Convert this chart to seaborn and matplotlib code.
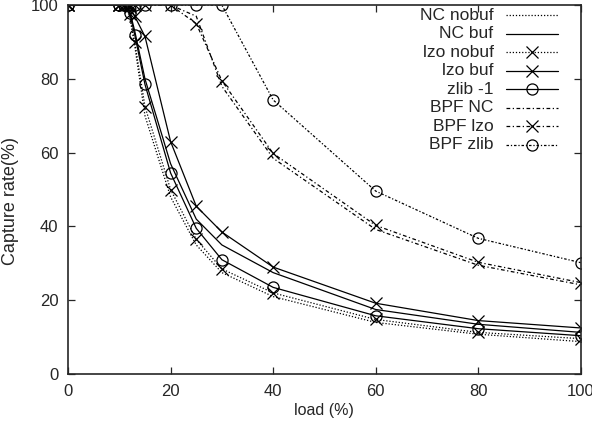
import numpy as np
import pandas as pd
import matplotlib
matplotlib.use("Agg")
import matplotlib.pyplot as plt
import seaborn as sns

# values
loads = [0, 10, 11, 12, 13, 15, 20, 25, 30, 40, 60, 80, 100]

nc_nobuf = [100, 100, 100, 97, 89, 70, 48, 35, 27.5, 21, 14, 10.8, 8.8]
nc_buf = [100, 100, 100, 98.5, 93, 80, 57, 42, 35, 27.5, 17.5, 13.5, 11.3]
lzo_nobuf = [100, 100, 100, 97.5, 90, 72.5, 50, 36.5, 28.5, 22, 14.8, 11.3, 9.6]
lzo_buf = [100, 100, 100, 99.5, 97, 91.5, 63, 45.5, 38.5, 29, 19.2, 14.5, 12.5]
zlib_1 = [100, 100, 100, 98, 92, 78.5, 54.5, 39.5, 31, 23.5, 15.8, 12.3, 10.4]
bpf_nc = [100, 100, 100, 100, 100, 100, 100, 97, 78, 58.5, 39.2, 29.5, 24.2]
bpf_lzo = [100, 100, 100, 100, 100, 100, 100, 95, 79.5, 59.8, 40.3, 30.3, 24.8]
bpf_zlib = [100, 100, 100, 100, 100, 100, 100, 100, 100, 74.3, 49.6, 36.8, 30.2]

labels = ["NC nobuf", "NC buf", "lzo nobuf", "lzo buf", "zlib -1",
          "BPF NC", "BPF lzo", "BPF zlib"]
series = [nc_nobuf, nc_buf, lzo_nobuf, lzo_buf, zlib_1, bpf_nc, bpf_lzo, bpf_zlib]

dot = (0, (1, 1.5))
dashdot = (0, (3, 2, 1, 2))
styles = [
    dict(linestyle=dot, marker=None),
    dict(linestyle="-", marker=None),
    dict(linestyle=dot, marker="x"),
    dict(linestyle="-", marker="x"),
    dict(linestyle="-", marker="o"),
    dict(linestyle=dashdot, marker=None),
    dict(linestyle=dashdot, marker="x"),
    dict(linestyle=(0, (2, 1.5, 1, 1.5)), marker="o"),
]

sns.set_style("ticks")
plt.rcParams["font.family"] = ["Liberation Sans", "DejaVu Sans"]

fig = plt.figure(figsize=(5.92, 4.28), dpi=100)
ax = fig.add_axes([0.115, 0.126, 0.866, 0.862])

for lab, vals, st in zip(labels, series, styles):
    df = pd.DataFrame({"load": loads, "rate": vals})
    sns.lineplot(data=df, x="load", y="rate", ax=ax, color="black",
                 linewidth=0.9, linestyle=st["linestyle"], marker=st["marker"],
                 markersize=8, markerfacecolor="none", markeredgecolor="black",
                 markeredgewidth=0.9, legend=False)

ax.set_xlim(0, 100)
ax.set_ylim(0, 100)
ax.set_xticks([0, 20, 40, 60, 80, 100])
ax.set_yticks([0, 20, 40, 60, 80, 100])
ax.tick_params(direction="in", length=5, width=0.9, top=True, right=True,
               labelsize=12, pad=7)
for s in ax.spines.values():
    s.set_linewidth(1.2)
ax.set_xlabel("load (%)", fontsize=11.5)
ax.set_ylabel("Capture rate(%)", fontsize=13)
ax.xaxis.set_label_coords(0.5, -0.078)
ax.yaxis.set_label_coords(-0.095, 0.47)

# gnuplot-style key: right-aligned labels, sample line on the right
row_px = [15, 33.5, 52, 70.5, 89, 107.5, 126, 144.5]
for lab, st, rp in zip(labels, styles, row_px):
    yk = (374 - rp) / 369.0
    ax.text(0.830, yk, lab, transform=ax.transAxes, ha="right", va="center",
            fontsize=12.5)
    ax.plot([0.854, 0.955], [yk, yk], transform=ax.transAxes, color="black",
            linewidth=0.9, linestyle=st["linestyle"], clip_on=False)
    if st["marker"]:
        ax.plot([0.904], [yk], transform=ax.transAxes, color="black",
                marker=st["marker"], markersize=8, markerfacecolor="none",
                markeredgewidth=0.9, linestyle="none", clip_on=False)

fig.savefig("out.png", dpi=100)
